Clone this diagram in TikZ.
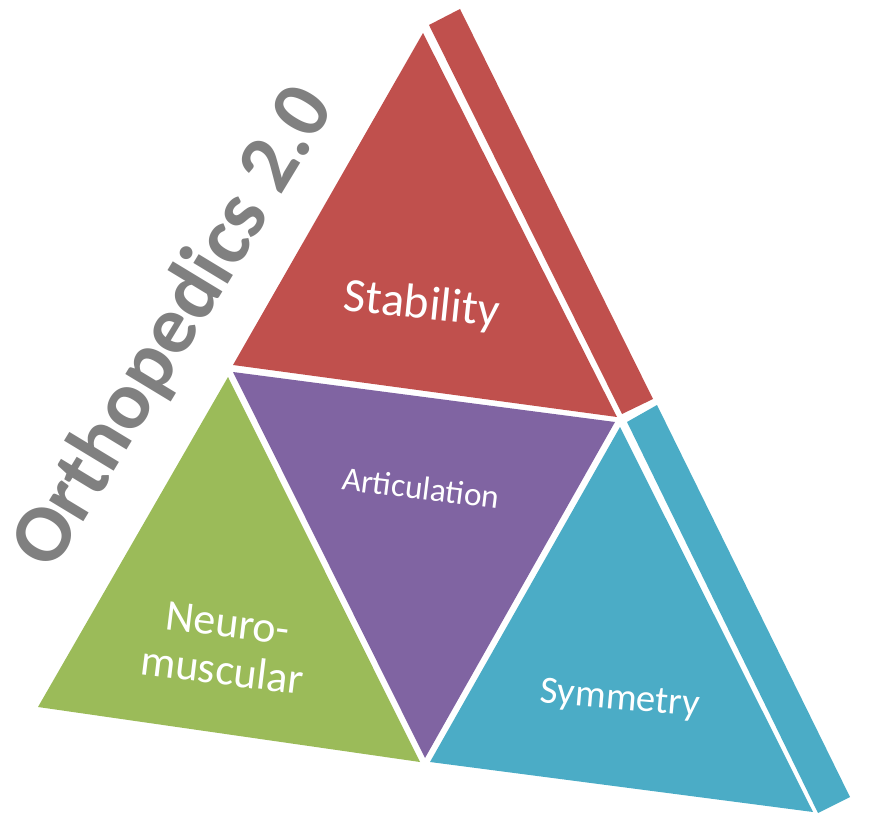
\documentclass[tikz,border=0pt]{standalone}
\usepackage{fontspec}
\setmainfont{Carlito}
\definecolor{redc}{HTML}{C0504D}
\definecolor{greenc}{HTML}{9BBB59}
\definecolor{purplec}{HTML}{8064A2}
\definecolor{bluec}{HTML}{4BACC6}
\definecolor{grayc}{HTML}{808080}
\tikzset{
  lbl/.style={text=white, align=center, inner sep=0pt},
}
\begin{document}
\begin{tikzpicture}[x=0.75pt,y=-0.75pt]
\useasboundingbox (0,0) rectangle (889,834);
% red top (front + side)
\fill[redc] (423,33) -- (233,365) -- (617,417) -- cycle;
\fill[redc] (429,25) -- (460,9) -- (653,399) -- (622,414) -- cycle;
% purple middle (inverted)
\fill[purplec] (233,372) -- (615,422) -- (425,758) -- cycle;
% green left
\fill[greenc] (228,377) -- (38,707) -- (420,762) -- cycle;
% blue right (front + side)
\fill[bluec] (620,427) -- (430,762) -- (813,812) -- cycle;
\fill[bluec] (627,422) -- (657,405) -- (850,797) -- (818,813) -- cycle;
% labels
\node[lbl, rotate=-6, font=\fontsize{36}{42}\selectfont] (stab) at (422,306) {Stability};
\node[lbl, rotate=-7, font=\fontsize{25}{30}\selectfont] (artic) at (421,488) {Articulation};
\node[lbl, rotate=-5, font=\fontsize{29}{34}\selectfont] (symm) at (620,700) {Symmetry};
\node[lbl, rotate=-7, font=\fontsize{33}{36}\selectfont] (neuro) at (225,647) {Neuro-\\muscular};
\node[text=grayc, inner sep=0pt, rotate=58.8, font=\bfseries\fontsize{62}{70}\selectfont] (title) at (175,328) {Orthopedics 2.0};
\end{tikzpicture}
\end{document}
